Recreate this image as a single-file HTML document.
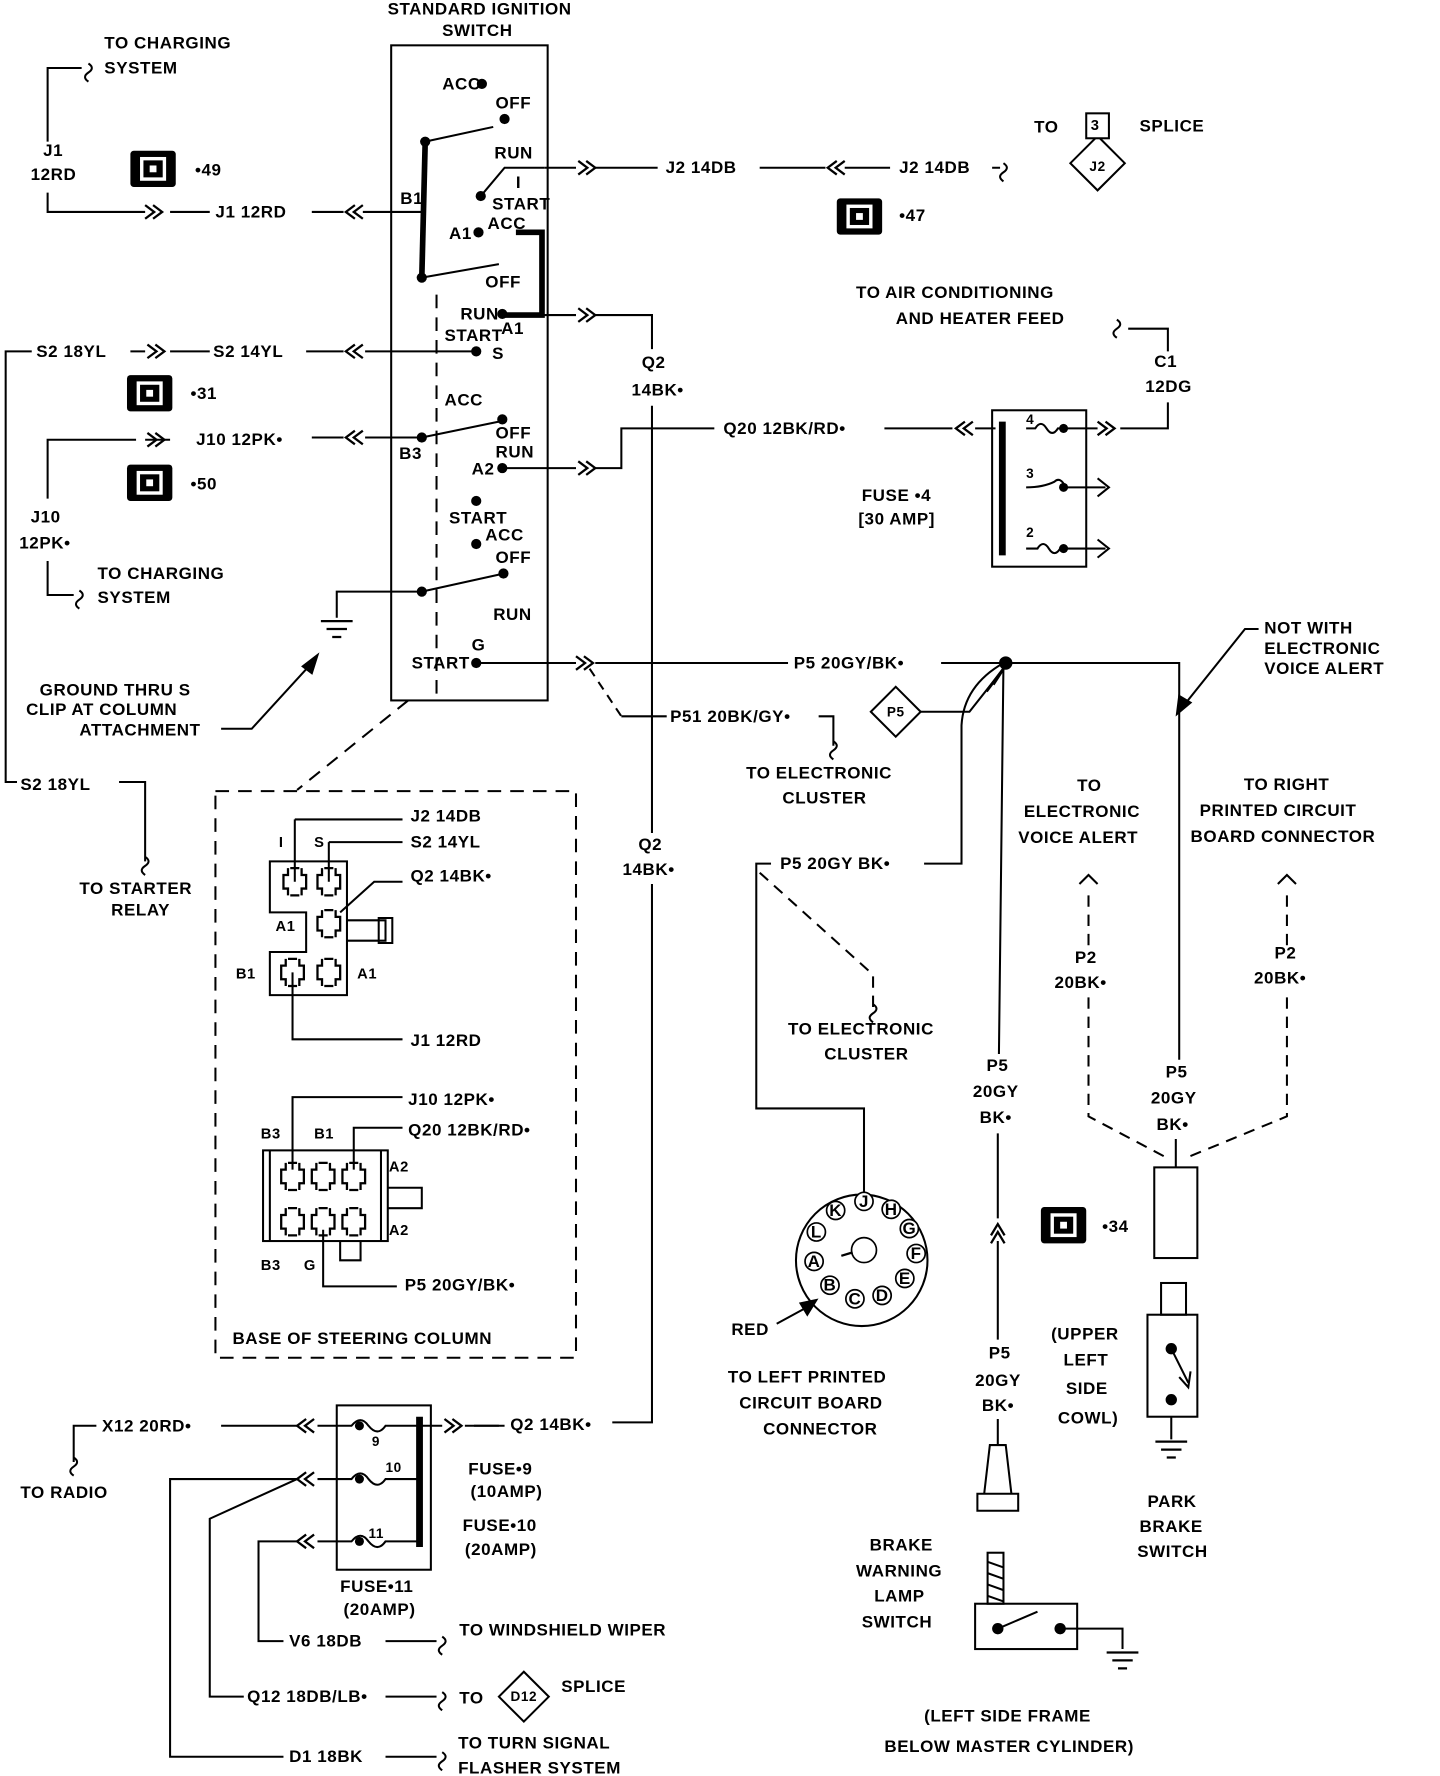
<!DOCTYPE html>
<html><head><meta charset="utf-8"><style>
html,body{margin:0;padding:0;background:#fff;}
svg{display:block;}
text{font-family:"Liberation Sans",sans-serif;font-size:15px;font-weight:bold;fill:#000;letter-spacing:0.5px;dominant-baseline:central;}
</style></head><body>
<svg width="1440" height="1776" viewBox="0 0 1270 1567" preserveAspectRatio="none" xmlns="http://www.w3.org/2000/svg">
<defs>
<g id="chR"><path d="M0,-6 L8,0 L0,6 M7,-6 L15,0 L7,6" fill="none" stroke="#000" stroke-width="2"/></g>
<g id="chL"><path d="M15,-6 L7,0 L15,6 M8,-6 L0,0 L8,6" fill="none" stroke="#000" stroke-width="2"/></g>
<g id="conn"><rect x="0" y="0" width="40" height="32" rx="3" fill="#000"/><rect x="10" y="7" width="20" height="18" fill="none" stroke="#fff" stroke-width="3"/><rect x="17" y="13" width="6" height="6" fill="#fff"/></g>
<g id="sq"><path d="M0,0 q6,-4 0,-8 M0,0 q-6,4 0,8" fill="none" stroke="#000" stroke-width="1.8"/></g>
<g id="gnd"><path d="M-14,0 H14 M-9,7 H9 M-4,14 H4" stroke="#000" stroke-width="2"/></g>
<g id="term"><path d="M-6,-12 V-6 H-10 V6 H-6 V12 M6,-12 V-6 H10 V6 H6 V12 M-4,-12 H4 M-4,12 H4" fill="none" stroke="#000" stroke-width="2"/></g>
</defs>
<g fill="none" stroke="#000" stroke-width="1.8">
<rect x="345" y="40" width="138" height="578"/>
<path d="M375,125 L372,245" stroke-width="5"/>
<path d="M385,260 V612" stroke-dasharray="12,8"/>
<path d="M375,125 L435,112 M372,245 L440,233 M424,173 L445,148 H480 M372,386 L440,372 M372,522 L440,507"/>
<path d="M455,205 H478 V278 H445" stroke-width="5"/>
<path d="M72,60 H42 V125 M42,170 V187 H128 M150,187 H185 M275,187 H303 M320,187 H375"/>
<path d="M480,148 H508 M525,148 H580 M670,148 H728 M745,148 H785 M875,148 H882"/>
<path d="M478,278 H508 M525,278 H575 V308 M575,358 V735 M575,780 V1255 H540 M418,1258 H440"/>
<path d="M420,310 H322 M303,310 H270 M185,310 H150 M128,310 H115 M28,310 H5 V690 H15 M105,690 H128 V760"/>
<path d="M372,386 H322 M303,386 H275 M150,388 H128 M120,388 H42 V440 M42,495 V525 H65"/>
<path d="M443,413 H508 M525,413 H548 V378 H630 M780,378 H840 M860,378 H878"/>
<path d="M372,522 H297 V545"/>
<path d="M420,585 H508 M525,585 H695 M830,585 H885"/>
<path d="M520,590 L548,632" stroke-dasharray="8,6"/>
<path d="M548,632 H588 M722,632 H735 V658"/>
<path d="M812,628 H855 L885,590 M815,762 H848 V640 Q850,605 885,585 M885,585 L881,930 M880,1000 V1075 M880,1095 V1182 M880,1252 V1275 M885,585 H1040 V935 M1037,1005 V1030"/>
<circle cx="887" cy="585" r="5" fill="#000"/>
<path d="M870,610 L885,590 L876,604" stroke-width="2.5"/>
<path d="M1110,555 H1098 L1042,625" /><path d="M1038,630 L1040,614 L1050,620 Z" fill="#000"/>
<rect x="875" y="362" width="83" height="138"/>
<path d="M884,372 V490" stroke-width="6"/>
<path d="M905,378 h8 q5,-8 10,0 q5,8 10,0 h35 M988,378 H1030 V355 M1030,310 V290 H995 M905,430 q15,0 25,-5 q5,-5 10,5 h35 M905,484 h10 q5,-8 10,0 q5,8 10,0 h40"/>
<path d="M968,422 L978,430 L968,438 M968,476 L978,484 L968,492"/>
<path d="M195,643 H222 L275,585"/><path d="M280,578 L267,588 L275,594 Z" fill="#000"/>
<rect x="190" y="698" width="318" height="500" stroke-dasharray="12,8"/>
<path d="M360,618 L262,697" stroke-dasharray="12,8"/>
<path d="M238,760 H306 V878 H238 V840 H270 V805 H238 Z M306,812 H340 V830 H306"/>
<path d="M334,810 H346 V832 H334 Z"/>
<path d="M260,723 H355 M260,723 V778 M290,743 H355 M290,743 V778 M300,805 L330,778 H355 M258,858 V917 H355"/>
<rect x="232" y="1015" width="110" height="80"/><path d="M238,1015 V1095 M336,1015 V1095 M342,1048 H372 V1066 H342 M300,1095 V1112 H318 V1095"/>
<path d="M258,1032 V968 H355 M312,1032 V995 H355 M285,1085 V1135 H350"/>
<circle cx="760" cy="1112" r="58"/>
<path d="M762,1057 V978 H667 V762 H680"/>
<path d="M670,770 L770,860 V890" stroke-dasharray="10,7"/>
<path d="M685,1168 L718,1150"/><path d="M720,1147 L706,1150 L712,1160 Z" fill="#000"/>
<path d="M960,790 V838 M960,880 V985 L1030,1022 M1135,790 V838 M1135,880 V985 L1045,1022" stroke-dasharray="10,7"/>
<rect x="1018" y="1030" width="38" height="80"/>
<rect x="1012" y="1160" width="44" height="90"/><rect x="1024" y="1132" width="22" height="28"/>
<path d="M1033,1190 L1048,1220 M1033,1250 V1270"/>
<path d="M1040,1215 L1048,1224 L1050,1210" />
<path d="M873,1275 H887 L892,1318 H868 Z M862,1318 H898 V1333 H862 Z"/>
<rect x="860" y="1415" width="90" height="40"/>
<rect x="871" y="1370" width="14" height="45"/><path d="M871,1378 L885,1383 M871,1388 L885,1393 M871,1398 L885,1403 M871,1408 L885,1413"/>
<path d="M880,1437 L915,1422 M935,1437 H990 V1455"/>
<rect x="297" y="1240" width="83" height="145"/>
<path d="M370,1250 V1365" stroke-width="6"/>
<path d="M262,1258 H195 M85,1258 H65 V1290 M280,1258 H310 q8,-10 15,0 q8,10 15,0 H380 M380,1258 H390 M410,1258 H445"/>
<path d="M280,1305 H310 q8,-10 15,0 q8,10 15,0 H368 M262,1305 L185,1340 V1497 H215 M262,1305 H150 V1550 H250 M340,1497 H385 M340,1550 H385"/>
<path d="M280,1360 H310 q8,-10 15,0 q8,10 15,0 H368 M262,1360 H228 V1448 H250 M340,1448 H385"/>
</g>
<g fill="#000">
<circle cx="425" cy="74" r="4.5"/><circle cx="445" cy="105" r="4.5"/><circle cx="375" cy="125" r="4.5"/><circle cx="424" cy="173" r="4.5"/>
<circle cx="422" cy="205" r="4.5"/><circle cx="372" cy="245" r="4.5"/><circle cx="443" cy="277" r="4.5"/><circle cx="420" cy="310" r="4.5"/>
<circle cx="443" cy="370" r="4.5"/><circle cx="372" cy="386" r="4.5"/><circle cx="443" cy="413" r="4.5"/><circle cx="420" cy="442" r="4.5"/>
<circle cx="420" cy="480" r="4.5"/><circle cx="444" cy="506" r="4.5"/><circle cx="372" cy="522" r="4.5"/><circle cx="420" cy="585" r="4.5"/>
<circle cx="317" cy="1258" r="4"/><circle cx="317" cy="1305" r="4"/><circle cx="317" cy="1360" r="4"/>
<circle cx="1033" cy="1190" r="5"/><circle cx="1033" cy="1235" r="5"/><circle cx="880" cy="1437" r="5"/><circle cx="935" cy="1437" r="5"/>
<circle cx="938" cy="378" r="4"/><circle cx="938" cy="430" r="4"/><circle cx="938" cy="484" r="4"/>
</g>
<use href="#chR" x="128" y="187"/><use href="#chL" x="305" y="187"/>
<use href="#chR" x="510" y="148"/><use href="#chL" x="730" y="148"/>
<use href="#chR" x="510" y="278"/>
<use href="#chR" x="130" y="310"/><use href="#chL" x="305" y="310"/>
<use href="#chR" x="130" y="388"/><use href="#chL" x="305" y="386"/>
<use href="#chR" x="510" y="413"/><use href="#chL" x="843" y="378"/><use href="#chR" x="968" y="378"/>
<use href="#chR" x="508" y="585"/>
<use href="#chL" x="262" y="1258"/><use href="#chR" x="392" y="1258"/>
<use href="#chL" x="262" y="1305"/><use href="#chL" x="262" y="1360"/>
<path d="M874,1090 L880,1080 L886,1090 M874,1097 L880,1087 L886,1097" fill="none" stroke="#000" stroke-width="2"/>
<use href="#sq" x="78" y="64"/><use href="#sq" x="885" y="152"/><use href="#sq" x="985" y="290"/>
<use href="#sq" x="70" y="529"/><use href="#sq" x="128" y="764"/><use href="#sq" x="735" y="662"/>
<use href="#sq" x="770" y="894"/><use href="#sq" x="65" y="1294"/>
<use href="#sq" x="390" y="1452"/><use href="#sq" x="390" y="1501"/><use href="#sq" x="390" y="1554"/>
<path d="M952,780 l8,-8 l8,8 M1127,780 l8,-8 l8,8" fill="none" stroke="#000" stroke-width="1.8"/>
<use href="#gnd" x="297" y="548"/><use href="#gnd" x="1033" y="1272"/><use href="#gnd" x="990" y="1458"/>
<use href="#conn" x="115" y="133"/><use href="#conn" x="738" y="175"/><use href="#conn" x="112" y="331"/>
<use href="#conn" x="112" y="410"/><use href="#conn" x="918" y="1065"/>
<use href="#term" x="260" y="778"/><use href="#term" x="290" y="778"/><use href="#term" x="290" y="815"/>
<use href="#term" x="258" y="858"/><use href="#term" x="290" y="858"/>
<use href="#term" x="258" y="1038"/><use href="#term" x="285" y="1038"/><use href="#term" x="312" y="1038"/>
<use href="#term" x="258" y="1078"/><use href="#term" x="285" y="1078"/><use href="#term" x="312" y="1078"/>
<g fill="#fff" stroke="#000" stroke-width="1.8">
<path d="M968,120 L992,144 L968,168 L944,144 Z"/><rect x="958" y="100" width="20" height="22"/>
<path d="M790,606 L812,628 L790,650 L768,628 Z"/>
<path d="M462,1475 L484,1497 L462,1519 L440,1497 Z"/>
</g>
<g fill="#fff" stroke="#000" stroke-width="1.5">
<circle cx="762" cy="1060" r="8"/><circle cx="786" cy="1067" r="8"/><circle cx="802" cy="1084" r="8"/><circle cx="808" cy="1106" r="8"/>
<circle cx="798" cy="1128" r="8"/><circle cx="778" cy="1143" r="8"/><circle cx="754" cy="1146" r="8"/><circle cx="732" cy="1134" r="8"/>
<circle cx="718" cy="1113" r="8"/><circle cx="720" cy="1087" r="8"/><circle cx="737" cy="1068" r="8"/><circle cx="762" cy="1103" r="11"/>
</g>
<path d="M742,1108 L752,1105" stroke="#000" stroke-width="2"/>
<g style="font-size:11px">
<text x="762" y="1060" text-anchor="middle">J</text><text x="786" y="1067" text-anchor="middle">H</text><text x="802" y="1084" text-anchor="middle">G</text><text x="808" y="1106" text-anchor="middle">F</text>
<text x="798" y="1128" text-anchor="middle">E</text><text x="778" y="1143" text-anchor="middle">D</text><text x="754" y="1146" text-anchor="middle">C</text><text x="732" y="1134" text-anchor="middle">B</text>
<text x="718" y="1113" text-anchor="middle">A</text><text x="720" y="1087" text-anchor="middle">L</text><text x="737" y="1068" text-anchor="middle">K</text>
</g>
<text x="423" y="8" text-anchor="middle">STANDARD IGNITION</text><text x="421" y="27" text-anchor="middle">SWITCH</text>
<text x="92" y="38">TO CHARGING</text><text x="92" y="60">SYSTEM</text>
<text x="38" y="133">J1</text><text x="27" y="154">12RD</text><text x="172" y="150">•49</text>
<text x="190" y="187">J1  12RD</text>
<g style="font-size:13px">
<text x="390" y="74">ACC</text><text x="437" y="91">OFF</text><text x="436" y="135">RUN</text><text x="455" y="161">I</text><text x="434" y="180">START</text>
<text x="353" y="175">B1</text><text x="396" y="206">A1</text><text x="430" y="197">ACC</text><text x="428" y="249">OFF</text>
<text x="406" y="277">RUN</text><text x="442" y="290">A1</text><text x="392" y="296">START</text><text x="434" y="312">S</text>
<text x="392" y="353">ACC</text><text x="437" y="382">OFF</text><text x="352" y="400">B3</text><text x="437" y="399">RUN</text><text x="416" y="414">A2</text>
<text x="396" y="457">START</text><text x="428" y="472">ACC</text><text x="437" y="492">OFF</text><text x="435" y="542">RUN</text><text x="416" y="569">G</text><text x="363" y="585">START</text>
</g>
<text x="587" y="148">J2  14DB</text><text x="793" y="148">J2  14DB</text>
<text x="912" y="112">TO</text><text x="962" y="111" style="font-size:13px">3</text><text x="968" y="147" text-anchor="middle" style="font-size:12px">J2</text><text x="1005" y="111">SPLICE</text>
<text x="793" y="190">•47</text>
<text x="755" y="258">TO AIR CONDITIONING</text><text x="790" y="281">AND HEATER FEED</text>
<text x="1018" y="319">C1</text><text x="1010" y="341">12DG</text>
<text x="32" y="310">S2  18YL</text><text x="188" y="310">S2  14YL</text>
<text x="566" y="320">Q2</text><text x="557" y="344">14BK•</text><text x="168" y="347">•31</text>
<text x="173" y="388">J10  12PK•</text><text x="168" y="427">•50</text>
<text x="638" y="378">Q20  12BK/RD•</text>
<text x="905" y="370" style="font-size:12px">4</text><text x="905" y="418" style="font-size:12px">3</text><text x="905" y="470" style="font-size:12px">2</text>
<text x="760" y="437">FUSE •4</text><text x="757" y="458">[30  AMP]</text>
<text x="27" y="456">J10</text><text x="17" y="479">12PK•</text>
<text x="86" y="506">TO CHARGING</text><text x="86" y="527">SYSTEM</text>
<text x="35" y="609">GROUND THRU S</text><text x="23" y="626">CLIP AT COLUMN</text><text x="70" y="644">ATTACHMENT</text>
<text x="700" y="585">P5  20GY/BK•</text><text x="591" y="632">P51  20BK/GY•</text>
<text x="790" y="628" text-anchor="middle" style="font-size:12px">P5</text>
<text x="658" y="682">TO ELECTRONIC</text><text x="690" y="704">CLUSTER</text>
<text x="1115" y="554">NOT WITH</text><text x="1115" y="572">ELECTRONIC</text><text x="1115" y="590">VOICE ALERT</text>
<text x="18" y="692">S2  18YL</text>
<text x="950" y="693">TO</text><text x="903" y="716">ELECTRONIC</text><text x="898" y="739">VOICE ALERT</text>
<text x="1097" y="692">TO RIGHT</text><text x="1058" y="715">PRINTED CIRCUIT</text><text x="1050" y="738">BOARD CONNECTOR</text>
<text x="362" y="720">J2  14DB</text><text x="362" y="743">S2  14YL</text><text x="362" y="773">Q2  14BK•</text>
<text x="246" y="744" style="font-size:13px">I</text><text x="277" y="744" style="font-size:13px">S</text>
<text x="243" y="818" style="font-size:13px">A1</text><text x="208" y="860" style="font-size:13px">B1</text><text x="315" y="860" style="font-size:13px">A1</text>
<text x="362" y="918">J1  12RD</text>
<text x="70" y="784">TO STARTER</text><text x="98" y="803">RELAY</text>
<text x="563" y="745">Q2</text><text x="549" y="767">14BK•</text>
<text x="688" y="762">P5  20GY  BK•</text>
<text x="948" y="845">P2</text><text x="930" y="867">20BK•</text><text x="1124" y="841">P2</text><text x="1106" y="863">20BK•</text>
<text x="695" y="908">TO ELECTRONIC</text><text x="727" y="930">CLUSTER</text>
<text x="870" y="940">P5</text><text x="858" y="963">20GY</text><text x="864" y="986">BK•</text>
<text x="1028" y="946">P5</text><text x="1015" y="969">20GY</text><text x="1020" y="992">BK•</text>
<text x="360" y="970">J10  12PK•</text><text x="360" y="997">Q20  12BK/RD•</text>
<text x="230" y="1001" style="font-size:13px">B3</text><text x="277" y="1001" style="font-size:13px">B1</text>
<text x="343" y="1030" style="font-size:13px">A2</text><text x="343" y="1086" style="font-size:13px">A2</text>
<text x="230" y="1117" style="font-size:13px">B3</text><text x="268" y="1117" style="font-size:13px">G</text>
<text x="357" y="1134">P5  20GY/BK•</text>
<text x="205" y="1181">BASE  OF  STEERING  COLUMN</text>
<text x="972" y="1082">•34</text>
<text x="645" y="1173">RED</text>
<text x="642" y="1215">TO LEFT PRINTED</text><text x="652" y="1238">CIRCUIT BOARD</text><text x="673" y="1261">CONNECTOR</text>
<text x="927" y="1177">(UPPER</text><text x="938" y="1200">LEFT</text><text x="940" y="1225">SIDE</text><text x="933" y="1251">COWL)</text>
<text x="872" y="1194">P5</text><text x="860" y="1218">20GY</text><text x="866" y="1240">BK•</text>
<text x="90" y="1258">X12  20RD•</text><text x="450" y="1257">Q2  14BK•</text><text x="18" y="1317">TO RADIO</text>
<text x="328" y="1272" style="font-size:12px">9</text><text x="340" y="1295" style="font-size:12px">10</text><text x="325" y="1353" style="font-size:12px">11</text>
<text x="413" y="1296">FUSE•9</text><text x="415" y="1316">(10AMP)</text><text x="408" y="1346">FUSE•10</text><text x="410" y="1367">(20AMP)</text>
<text x="300" y="1400">FUSE•11</text><text x="303" y="1420">(20AMP)</text>
<text x="1012" y="1325">PARK</text><text x="1005" y="1347">BRAKE</text><text x="1003" y="1369">SWITCH</text>
<text x="767" y="1363">BRAKE</text><text x="755" y="1386">WARNING</text><text x="771" y="1408">LAMP</text><text x="760" y="1431">SWITCH</text>
<text x="255" y="1448">V6  18DB</text><text x="405" y="1438">TO WINDSHIELD WIPER</text>
<text x="218" y="1497">Q12  18DB/LB•</text><text x="405" y="1498">TO</text><text x="462" y="1497" text-anchor="middle" style="font-size:12px">D12</text><text x="495" y="1488">SPLICE</text>
<text x="815" y="1514">(LEFT SIDE FRAME</text><text x="780" y="1541">BELOW MASTER CYLINDER)</text>
<text x="255" y="1550">D1  18BK</text><text x="404" y="1538">TO TURN SIGNAL</text><text x="404" y="1560">FLASHER SYSTEM</text>
</svg>
</body></html>
